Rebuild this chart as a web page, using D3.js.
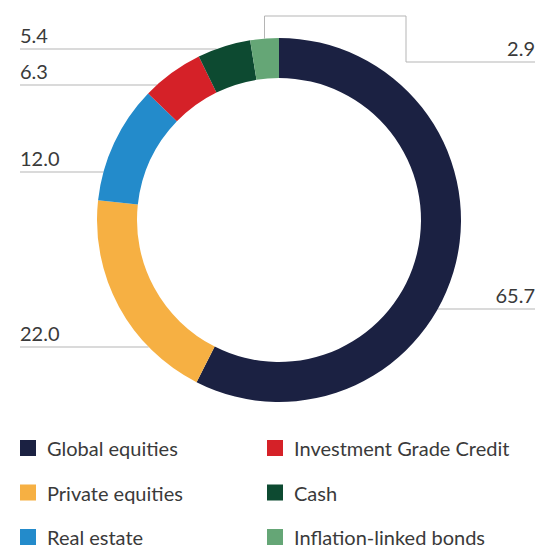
<!DOCTYPE html>
<html>
<head>
<meta charset="utf-8">
<script src="https://cdnjs.cloudflare.com/ajax/libs/d3/7.8.5/d3.min.js"></script>
<style>
  html, body { margin: 0; padding: 0; background: #fff; }
  svg { display: block; }
  text { font-family: "Lato", "Open Sans", sans-serif; fill: #3a3a3a; }
</style>
</head>
<body>
<div id="chart"></div>
<script>
// data
const categories = ["Global equities", "Private equities", "Real estate", "Investment Grade Credit", "Cash", "Inflation-linked bonds"];
const values = [65.7, 22.0, 12.0, 6.3, 5.4, 2.9];
const colors = ["#1b2142", "#f6b043", "#238bcb", "#d52128", "#0d4a31", "#65a676"];

// legend layout: two columns, order as in the picture
const legendOrder = [0, 1, 2, 3, 4, 5];

// where the value labels sit (y of the leader line)
const labelLineY = [309, 347, 172, 85, 49, null];

const width = 537,
    height = 548,
    cx = 279,
    cy = 220,
    outerR = 182,
    innerR = 142;

const svg = d3.select("#chart").append("svg")
    .attr("width", width)
    .attr("height", height);

const pie = d3.pie().sort(null).value(function(d) { return d; });
const arcs = pie(values);

const arc = d3.arc().innerRadius(innerR).outerRadius(outerR);

const fmt = d3.format(".1f");

// leader lines go under the ring
const leaders = svg.append("g").attr("class", "leaders");

arcs.forEach(function(a, i) {
    let ly = labelLineY[i];
    let mid = (a.startAngle + a.endAngle) / 2;
    if (ly !== null) {
        // horizontal line meeting the outer edge
        let dy = ly - cy;
        let dx = Math.sqrt(outerR * outerR - dy * dy);
        let onRight = Math.sin(mid) > 0;
        let xEdge = onRight ? cx + dx : cx - dx;
        let xEnd = onRight ? 535 : 20;
        leaders.append("line")
            .attr("x1", xEnd).attr("x2", xEdge)
            .attr("y1", ly).attr("y2", ly)
            .attr("stroke", "#b5b5b5").attr("stroke-width", 1);
        leaders.append("text")
            .attr("x", xEnd)
            .attr("y", ly - 6)
            .attr("text-anchor", onRight ? "end" : "start")
            .style("font-size", "20px")
            .text(fmt(values[i]));
    } else {
        // small slice at the top: elbow line out to the right
        let x0 = cx + outerR * Math.sin(mid);
        let y0 = cy - outerR * Math.cos(mid);
        let path = d3.path();
        path.moveTo(x0, y0);
        path.lineTo(x0, 16);
        path.lineTo(406, 16);
        path.lineTo(406, 62);
        path.lineTo(535, 62);
        leaders.append("path")
            .attr("d", path.toString())
            .attr("fill", "none")
            .attr("stroke", "#b5b5b5").attr("stroke-width", 1);
        leaders.append("text")
            .attr("x", 535)
            .attr("y", 56)
            .attr("text-anchor", "end")
            .style("font-size", "20px")
            .text(fmt(values[i]));
    }
});

svg.append("g")
    .attr("transform", "translate(" + cx + "," + cy + ")")
    .selectAll("path")
    .data(arcs)
    .enter().append("path")
    .attr("d", arc)
    .attr("fill", function(d, i) { return colors[i]; });

// legend
const legend = svg.append("g").attr("class", "legend");

legendOrder.forEach(function(idx, k) {
    let col = Math.floor(k / 3);
    let row = k % 3;
    let x = 20 + col * 247;
    let y = 440 + row * 44.5;
    legend.append("rect")
        .attr("x", x).attr("y", y)
        .attr("width", 16).attr("height", 16)
        .attr("fill", colors[idx]);
    legend.append("text")
        .attr("x", x + 27)
        .attr("y", y + 16)
        .style("font-size", "20px")
        .text(categories[idx]);
});
</script>
</body>
</html>
